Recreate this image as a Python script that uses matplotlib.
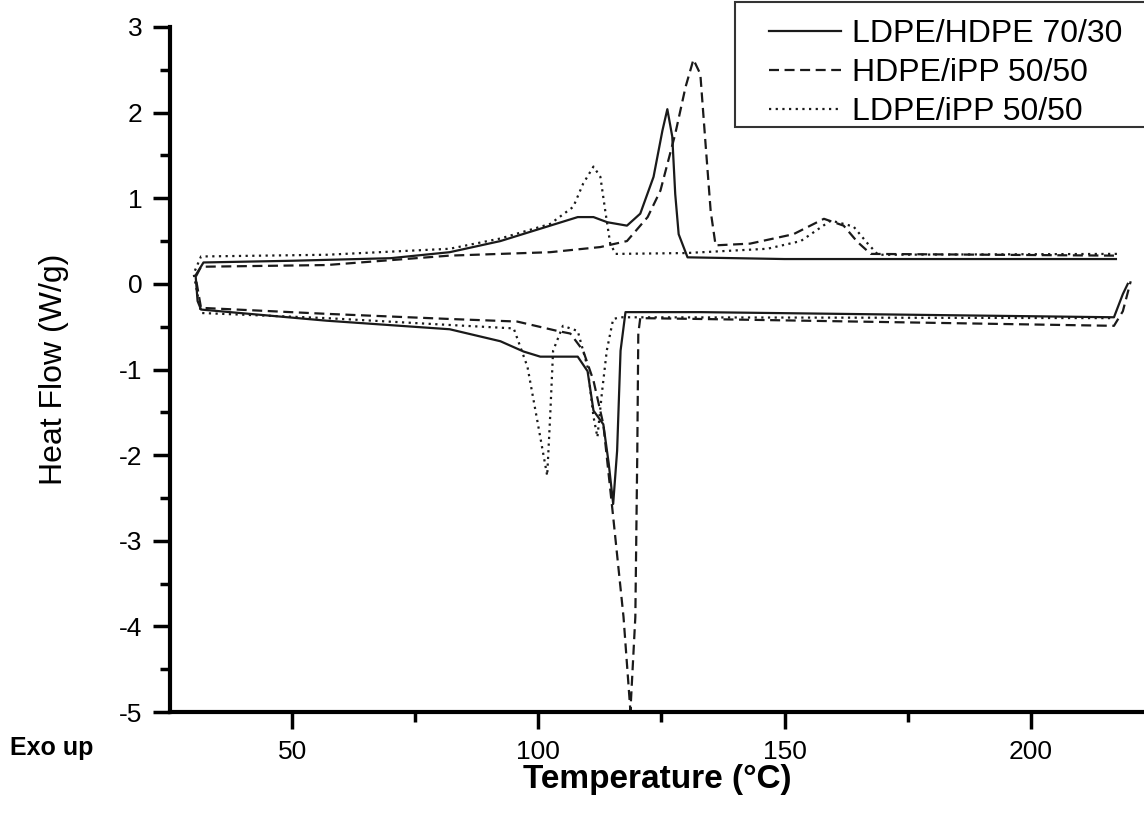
import numpy as np
import matplotlib
matplotlib.use("Agg")
import matplotlib.pyplot as plt
from matplotlib.patches import Rectangle
from matplotlib.ticker import MultipleLocator

plt.rcParams["font.family"] = ["Liberation Sans", "DejaVu Sans"]
plt.rcParams["axes.unicode_minus"] = False

# DSC loops: cooling branch (exo up, upper) and heating branch (lower)
labels = ["LDPE/HDPE 70/30", "HDPE/iPP 50/50", "LDPE/iPP 50/50"]

lh_cool_T = [30.4, 32, 50, 70, 82, 92.3, 102.4, 108, 111.2, 114, 118, 120.7,
             123.4, 125.2, 126.2, 127.2, 127.8, 128.5, 130.3, 150, 217.3]
lh_cool_hf = [0.10, 0.25, 0.27, 0.30, 0.37, 0.50, 0.68, 0.78, 0.78, 0.72, 0.68,
              0.82, 1.25, 1.79, 2.04, 1.72, 1.05, 0.58, 0.31, 0.29, 0.29]
lh_heat_T = [30.4, 30.8, 31.5, 57, 82, 92.3, 97, 100.4, 108, 110, 111.2, 113.2,
             114.3, 115.2, 116, 116.7, 117.7, 133, 216.9, 218.7, 219.7]
lh_heat_hf = [0.10, -0.20, -0.30, -0.43, -0.53, -0.67, -0.79, -0.85, -0.85,
              -1.02, -1.48, -1.64, -2.10, -2.57, -1.95, -0.78, -0.33, -0.33,
              -0.39, -0.12, 0.0]

hi_cool_T = [30.4, 31.5, 57, 82, 102.4, 112.6, 118, 122.2, 124.8, 127.8, 129.9,
             131.5, 132.9, 133.9, 135, 136, 143, 151.8, 158, 162, 164.8, 167.5,
             216.9]
hi_cool_hf = [0.08, 0.20, 0.22, 0.33, 0.37, 0.43, 0.50, 0.78, 1.09, 1.75, 2.30,
              2.62, 2.45, 1.68, 0.85, 0.45, 0.47, 0.58, 0.76, 0.68, 0.49, 0.35,
              0.33]
hi_heat_T = [30.4, 31.5, 57, 82, 95.7, 103.9, 106.5, 109.1, 111.2, 113.2, 115.2,
             117.3, 118.7, 119.7, 120.1, 120.3, 120.7, 133, 216.9, 218.7, 220.3]
hi_heat_hf = [0.08, -0.28, -0.35, -0.41, -0.44, -0.55, -0.58, -0.78, -1.13,
              -1.64, -2.72, -3.89, -4.99, -3.89, -1.95, -0.58, -0.40, -0.41,
              -0.49, -0.32, 0.03]

li_cool_T = [30.0, 31.5, 57, 82, 92.3, 102.4, 107.1, 109.1, 111.2, 112.6, 113.6,
             114.6, 115.7, 130, 146.5, 153.3, 159.4, 164, 166.9, 169, 217.5]
li_cool_hf = [0.12, 0.32, 0.34, 0.41, 0.53, 0.70, 0.90, 1.17, 1.37, 1.25, 0.85,
              0.47, 0.35, 0.36, 0.41, 0.50, 0.74, 0.67, 0.47, 0.34, 0.35]
li_heat_T = [30.0, 31.5, 57, 82, 95, 97.8, 99.8, 101.8, 102.4, 103, 105, 108,
             110, 111.2, 112, 112.9, 113.9, 115.2, 116.7, 217]
li_heat_hf = [0.12, -0.34, -0.40, -0.48, -0.52, -0.97, -1.60, -2.24, -1.55,
              -0.78, -0.49, -0.55, -0.97, -1.55, -1.79, -1.28, -0.78, -0.41,
              -0.39, -0.40]

series = [
    (lh_cool_T, lh_cool_hf, lh_heat_T, lh_heat_hf, "-"),
    (hi_cool_T, hi_cool_hf, hi_heat_T, hi_heat_hf, (0, (4.5, 2.5))),
    (li_cool_T, li_cool_hf, li_heat_T, li_heat_hf, (0, (1, 2))),
]

W, H = 1144, 819
fig = plt.figure(figsize=(W / 100, H / 100), dpi=100)
ax = fig.add_axes([170 / W, 1 - 712 / H, 1 - 170 / W, (712 - 27) / H])

for (cT, chf, hT, hhf, ls), lab in zip(series, labels):
    T = list(cT[::-1]) + list(hT)
    hf = list(chf[::-1]) + list(hhf)
    ax.plot(T, hf, ls=ls, color="#1a1a1a", lw=1.6, label=lab)

ax.set_xlim(25.2, 223)
ax.set_ylim(-5, 3)
ax.xaxis.set_major_locator(MultipleLocator(50))
ax.xaxis.set_minor_locator(MultipleLocator(25))
ax.yaxis.set_major_locator(MultipleLocator(1))
ax.yaxis.set_minor_locator(MultipleLocator(0.5))
for s in ["top", "right"]:
    ax.spines[s].set_visible(False)
for s in ["left", "bottom"]:
    ax.spines[s].set_linewidth(3)
ax.tick_params(which="major", direction="out", length=12, width=2.5,
               labelsize=19, pad=8)
ax.tick_params(which="minor", direction="out", length=7, width=2.5)

ax.set_xlabel("Temperature (\u00b0C)", fontsize=24, fontweight="bold", labelpad=0)
ax.set_ylabel("Heat Flow (W/g)", fontsize=23, labelpad=36)

fig.text(10 / W, 1 - 748 / H, "Exo up", fontsize=18, fontweight="bold",
         va="center", ha="left")

# legend box runs off the right edge, as in the source figure
ax.add_patch(Rectangle((735 / W, 1 - 127 / H), 1, 125 / H,
                       transform=fig.transFigure, clip_on=False,
                       facecolor="white", edgecolor="#333333", lw=1.5,
                       zorder=3))
leg = ax.legend(loc="upper left", bbox_to_anchor=(753 / W, 1 - 3 / H),
                bbox_transform=fig.transFigure, fontsize=23, frameon=False,
                handlelength=2.25, borderpad=0, labelspacing=0.29,
                handletextpad=0.35)
leg.set_zorder(5)

fig.savefig("out.png", dpi=100)
